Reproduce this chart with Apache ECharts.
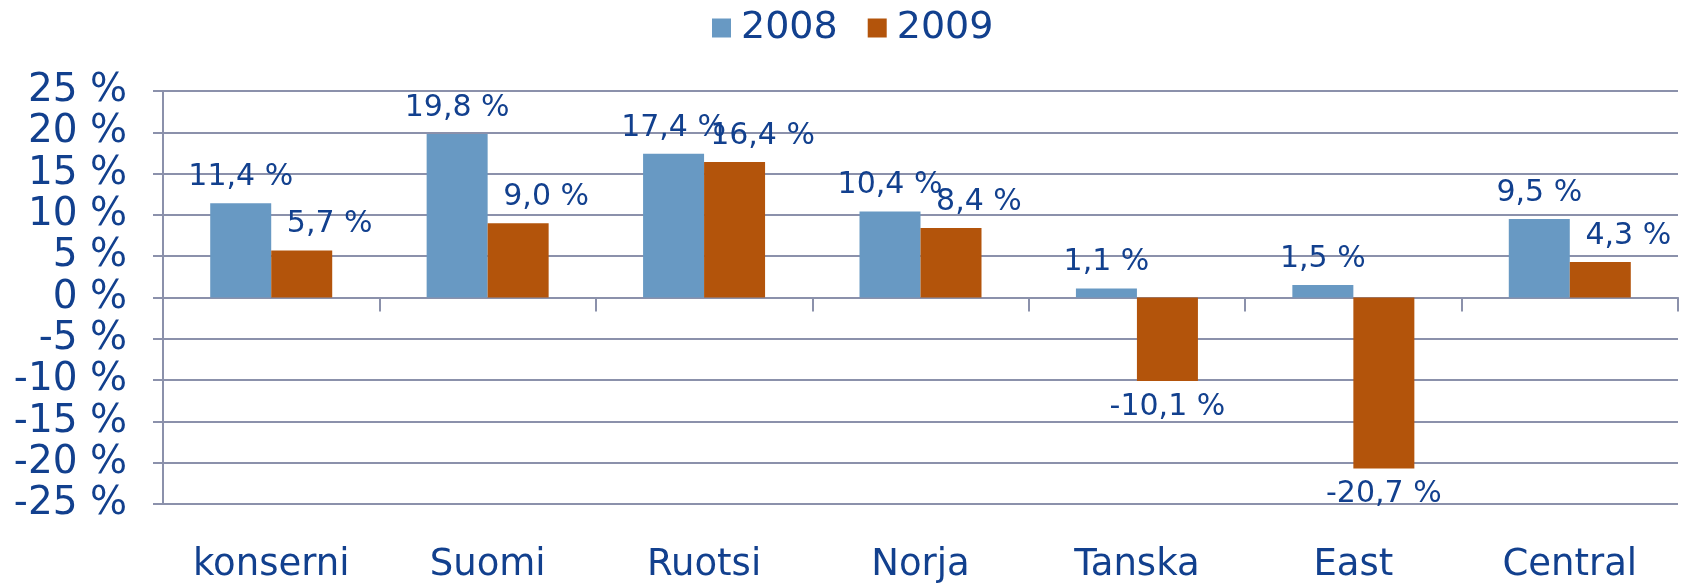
<!DOCTYPE html>
<html>
<head>
<meta charset="utf-8">
<script src="https://cdn.jsdelivr.net/npm/echarts@6/dist/echarts.min.js"></script>
<style>
  html, body { margin: 0; padding: 0; background: #fff; }
  #chart { width: 1684px; height: 584px; }
</style>
</head>
<body>
<div id="chart"></div>
<script>
const categories = ['konserni', 'Suomi', 'Ruotsi', 'Norja', 'Tanska', 'East', 'Central']
const values2008 = [11.4, 19.8, 17.4, 10.4, 1.1, 1.5, 9.5]
const values2009 = [5.7, 9.0, 16.4, 8.4, -10.1, -20.7, 4.3]
const seriesNames = ['2008', '2009']

const textColor = '#12408e'
const lineColor = '#8b91ab'
const font = 'DejaVu Sans'

const fmt = v => v.toFixed(1).replace('.', ',') + ' %'

const chart = echarts.init(document.getElementById('chart'))

// 2009 labels sit a bit to the right when positive, below the bar when negative
const data2009 = values2009.map(v => ({
  value: v,
  label: v >= 0
    ? { position: 'top', offset: [28, 0] }
    : { position: 'bottom' }
}))

const labelStyle = {
  show: true,
  color: textColor,
  fontFamily: font,
  fontSize: 30,
  distance: 11,
  formatter: p => fmt(p.value)
}

chart.setOption({
  animation: false,
  backgroundColor: '#fff',
  legend: {
    left: 707,
    top: 4,
    itemWidth: 19,
    itemHeight: 19,
    itemGap: 30,
    icon: 'rect',
    textStyle: { color: textColor, fontFamily: font, fontSize: 38, padding: [0, 0, 0, 5] },
    data: seriesNames
  },
  grid: { left: 163, right: 6, top: 91, bottom: 80 },
  xAxis: [
    {
      // zero line with boundary ticks
      type: 'category',
      position: 'top',
      data: categories,
      axisLine: { onZero: true, lineStyle: { color: lineColor, width: 2 } },
      axisTick: { show: true, inside: true, length: 14, lineStyle: { color: lineColor, width: 2 } },
      axisLabel: { show: false }
    },
    {
      // category labels at the bottom
      type: 'category',
      position: 'bottom',
      data: categories,
      axisLine: { show: false, onZero: false },
      axisTick: { show: false },
      axisLabel: { color: textColor, fontFamily: font, fontSize: 37, margin: 43 }
    }
  ],
  yAxis: {
    type: 'value',
    min: -25,
    max: 25,
    interval: 5,
    axisLine: { show: true, lineStyle: { color: lineColor, width: 2 } },
    axisTick: { show: true, length: 10, lineStyle: { color: lineColor, width: 2 } },
    splitLine: { lineStyle: { color: lineColor, width: 2 } },
    axisLabel: {
      color: textColor, fontFamily: font, fontSize: 39, margin: 36,
      formatter: v => v + ' %'
    }
  },
  series: [
    {
      name: seriesNames[0],
      type: 'bar',
      xAxisIndex: 1,
      barWidth: 61,
      barGap: '0%',
      itemStyle: { color: '#6899c3' },
      label: Object.assign({ position: 'top' }, labelStyle),
      data: values2008
    },
    {
      name: seriesNames[1],
      type: 'bar',
      xAxisIndex: 1,
      barWidth: 61,
      barGap: '0%',
      itemStyle: { color: '#b3540b' },
      label: labelStyle,
      data: data2009
    }
  ]
})
</script>
</body>
</html>
